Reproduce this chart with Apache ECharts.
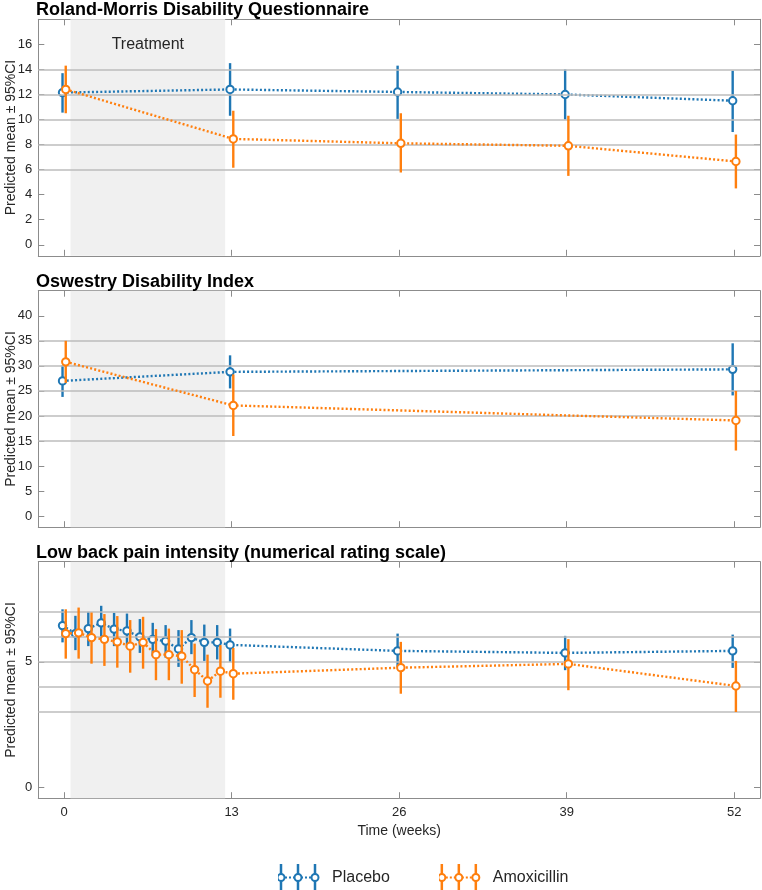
<!DOCTYPE html>
<html>
<head>
<meta charset="utf-8">
<script src="https://cdn.jsdelivr.net/npm/echarts@6/dist/echarts.min.js"></script>
<style>html,body{margin:0;padding:0;background:#fff;}#chart{width:762px;height:890px;}</style>
</head>
<body>
<div id="chart"></div>
<script>
// ---------- data ----------
const xTicks = [0, 13, 26, 39, 52];
const treatmentWeeks = [0.5, 12.5];

// Roland-Morris Disability Questionnaire
const rmdqWeeks = [0, 13, 26, 39, 52];
const rmdqPlaceboMean = [12.15, 12.4, 12.2, 12.0, 11.5];
const rmdqPlaceboLo   = [10.55, 10.3, 10.05, 10.0, 9.0];
const rmdqPlaceboHi   = [13.7, 14.5, 14.3, 14.0, 13.9];
const rmdqAmoxMean    = [12.4, 8.45, 8.1, 7.9, 6.65];
const rmdqAmoxLo      = [10.5, 6.15, 5.77, 5.5, 4.5];
const rmdqAmoxHi      = [14.3, 10.7, 10.5, 10.3, 8.8];
const rmdqTicks = [0, 2, 4, 6, 8, 10, 12, 14, 16];
const rmdqGrid  = [6, 8, 10, 12, 14];

// Oswestry Disability Index
const odiWeeks = [0, 13, 52];
const odiPlaceboMean = [27.0, 28.8, 29.3];
const odiPlaceboLo   = [23.8, 25.5, 24.1];
const odiPlaceboHi   = [30.1, 32.1, 34.5];
const odiAmoxMean    = [30.8, 22.1, 19.1];
const odiAmoxLo      = [26.6, 16.0, 13.1];
const odiAmoxHi      = [35.0, 28.3, 25.0];
const odiTicks = [0, 5, 10, 15, 20, 25, 30, 35, 40];
const odiGrid  = [15, 20, 25, 30, 35];

// Low back pain intensity
const lbpWeeks = [0, 1, 2, 3, 4, 5, 6, 7, 8, 9, 10, 11, 12, 13, 26, 39, 52];
const lbpPlaceboMean = [6.45, 6.13, 6.33, 6.56, 6.31, 6.24, 6.0, 5.9, 5.83, 5.52, 5.97, 5.78, 5.78, 5.68, 5.44, 5.36, 5.44];
const lbpPlaceboLo   = [5.78, 5.47, 5.63, 5.87, 5.63, 5.57, 5.36, 5.23, 5.17, 4.8, 5.31, 5.04, 5.1, 5.0, 4.8, 4.67, 4.76];
const lbpPlaceboHi   = [7.1, 6.84, 7.0, 7.24, 6.96, 6.93, 6.71, 6.56, 6.47, 6.27, 6.67, 6.49, 6.47, 6.33, 6.13, 6.04, 6.09];
const lbpAmoxMean    = [6.13, 6.16, 5.97, 5.9, 5.8, 5.63, 5.78, 5.29, 5.29, 5.23, 4.69, 4.24, 4.63, 4.53, 4.77, 4.92, 4.04];
const lbpAmoxLo      = [5.13, 5.13, 4.93, 4.84, 4.77, 4.57, 4.73, 4.27, 4.27, 4.13, 3.6, 3.17, 3.57, 3.49, 3.73, 3.87, 3.0];
const lbpAmoxHi      = [7.1, 7.17, 6.97, 6.91, 6.83, 6.67, 6.8, 6.31, 6.33, 6.27, 5.73, 5.29, 5.67, 5.56, 5.8, 5.91, 5.04];
const lbpTicks = [0, 5];
const lbpGrid  = [3, 4, 5, 6, 7];

const titles = ['Roland-Morris Disability Questionnaire', 'Oswestry Disability Index', 'Low back pain intensity (numerical rating scale)'];
const groupNames = ['Placebo', 'Amoxicillin'];

// ---------- styling ----------
const FONT = "'Liberation Sans', Arial, Helvetica, sans-serif";
const TXT = '#262626';
const AX = '#8c8c8c';
const COLORS = ['#1f77b4', '#ff7f0e'];
const OFFSET = [-0.12, 0.13];

const panels = [
  {weeks: rmdqWeeks, groups: [[rmdqPlaceboMean, rmdqPlaceboLo, rmdqPlaceboHi], [rmdqAmoxMean, rmdqAmoxLo, rmdqAmoxHi]], ticks: rmdqTicks, grid: rmdqGrid, min: -0.88, max: 18},
  {weeks: odiWeeks, groups: [[odiPlaceboMean, odiPlaceboLo, odiPlaceboHi], [odiAmoxMean, odiAmoxLo, odiAmoxHi]], ticks: odiTicks, grid: odiGrid, min: -2.2, max: 45},
  {weeks: lbpWeeks, groups: [[lbpPlaceboMean, lbpPlaceboLo, lbpPlaceboHi], [lbpAmoxMean, lbpAmoxLo, lbpAmoxHi]], ticks: lbpTicks, grid: lbpGrid, min: -0.44, max: 9}
];

const gridTops = [19.3, 290.7, 561.7];
const gridH = 236.5;

function errRender(params, api) {
  const x = api.value(0), m = api.value(1), lo = api.value(2), hi = api.value(3);
  const pLo = api.coord([x, lo]), pHi = api.coord([x, hi]), pM = api.coord([x, m]);
  const color = api.visual('color');
  return {type: 'group', children: [
    {type: 'line', shape: {x1: pLo[0], y1: pLo[1], x2: pHi[0], y2: pHi[1]}, style: {stroke: color, lineWidth: 2.4}},
    {type: 'circle', shape: {cx: pM[0], cy: pM[1], r: 3.7}, style: {fill: '#ffffff', stroke: color, lineWidth: 2}}
  ]};
}

const grid = [], xAxis = [], yAxis = [], series = [], title = [];
panels.forEach((p, i) => {
  grid.push({left: 38.3, right: 2, top: gridTops[i], height: gridH, containLabel: false, outerBoundsMode: 'none'});
  title.push({text: titles[i], left: 36, top: gridTops[i] - 19.3 + 1.5, padding: 0,
    textStyle: {fontFamily: FONT, fontSize: 18, fontWeight: 'bold', color: '#000'}});
  const axLine = {show: true, onZero: false, lineStyle: {color: AX, width: 1}};
  const tickStyle = {show: true, inside: true, length: 6, customValues: xTicks, lineStyle: {color: AX, width: 1}};
  xAxis.push({gridIndex: i, type: 'value', min: -2, max: 54, position: 'bottom',
    axisLine: axLine,
    axisTick: tickStyle,
    axisLabel: {show: i === 2, customValues: xTicks, margin: 8, fontFamily: FONT, fontSize: 13, color: TXT},
    splitLine: {show: false},
    name: i === 2 ? 'Time (weeks)' : '', nameLocation: 'middle', nameGap: 26, nameMoveOverlap: false,
    nameTextStyle: {fontFamily: FONT, fontSize: 14, color: TXT}});
  xAxis.push({gridIndex: i, type: 'value', min: -2, max: 54, position: 'top',
    axisLine: axLine,
    axisTick: tickStyle, axisLabel: {show: false}, splitLine: {show: false}});
  const yTick = {show: true, inside: true, length: 6, customValues: p.ticks, lineStyle: {color: AX, width: 1}};
  yAxis.push({gridIndex: i, type: 'value', min: p.min, max: p.max, position: 'left',
    axisLine: axLine,
    axisTick: yTick,
    axisLabel: {show: true, customValues: p.ticks, margin: 6, fontFamily: FONT, fontSize: 13, color: TXT},
    splitLine: {show: false},
    name: 'Predicted mean \u00b1 95%CI', nameLocation: 'middle', nameRotate: 90, nameGap: 20, nameMoveOverlap: false,
    nameTextStyle: {fontFamily: FONT, fontSize: 14, color: TXT}});
  yAxis.push({gridIndex: i, type: 'value', min: p.min, max: p.max, position: 'right',
    axisLine: axLine,
    axisTick: yTick, axisLabel: {show: false}, splitLine: {show: false}});

  // background: treatment shading + grid lines
  series.push({type: 'line', name: '_bg' + i, xAxisIndex: 2 * i, yAxisIndex: 2 * i, data: [], silent: true, z: 1,
    markArea: {silent: true, itemStyle: {color: '#f0f0f0'},
      label: {show: i === 0, position: 'insideTop', distance: 17, fontFamily: FONT, fontSize: 16, color: TXT},
      data: [[{xAxis: treatmentWeeks[0], name: i === 0 ? 'Treatment' : ''}, {xAxis: treatmentWeeks[1]}]]},
    markLine: {silent: true, symbol: 'none', label: {show: false},
      lineStyle: {color: '#bdbdbd', type: 'solid', width: 1.5},
      data: p.grid.map(v => ({yAxis: v}))}
  });

  p.groups.forEach((g, k) => {
    const pts = p.weeks.map((w, j) => [w + OFFSET[k], g[0][j], g[1][j], g[2][j]]);
    series.push({type: 'line', name: groupNames[k], xAxisIndex: 2 * i, yAxisIndex: 2 * i, z: 3 + k * 2,
      data: pts.map(d => [d[0], d[1]]), showSymbol: false, symbol: 'none',
      lineStyle: {color: COLORS[k], width: 2.4, type: [2, 2.2]}, itemStyle: {color: COLORS[k]}, silent: true});
    series.push({type: 'custom', name: groupNames[k], xAxisIndex: 2 * i, yAxisIndex: 2 * i, z: 4 + k * 2,
      data: pts, encode: {x: 0, y: [1, 2, 3]}, renderItem: errRender, itemStyle: {color: COLORS[k]}, silent: true});
  });
});

function iconUri(c) {
  const bars = [3, 20, 37];
  let s = "<svg xmlns='http://www.w3.org/2000/svg' width='49' height='28' viewBox='0 0 49 28'>";
  s += "<line x1='3' y1='13.5' x2='37' y2='13.5' stroke='" + c + "' stroke-width='2.2' stroke-dasharray='2 2'/>";
  bars.forEach(b => { s += "<line x1='" + b + "' y1='0' x2='" + b + "' y2='28' stroke='" + c + "' stroke-width='2.5'/>"; });
  bars.forEach(b => { s += "<circle cx='" + b + "' cy='13.5' r='3.5' fill='white' stroke='" + c + "' stroke-width='2'/>"; });
  s += "</svg>";
  return 'image://data:image/svg+xml;charset=utf-8,' + encodeURIComponent(s);
}

const option = {
  animation: false,
  backgroundColor: '#ffffff',
  title: title,
  grid: grid,
  xAxis: xAxis,
  yAxis: yAxis,
  legend: {left: 273, top: 859, itemWidth: 49, itemHeight: 28, itemGap: 49, selectedMode: false,
    textStyle: {fontFamily: FONT, fontSize: 16, color: TXT},
    data: [{name: 'Placebo', icon: iconUri(COLORS[0])}, {name: 'Amoxicillin', icon: iconUri(COLORS[1])}]},
  series: series
};

const chart = echarts.init(document.getElementById('chart'), null, {renderer: 'canvas'});
chart.setOption(option);
</script>
</body>
</html>
